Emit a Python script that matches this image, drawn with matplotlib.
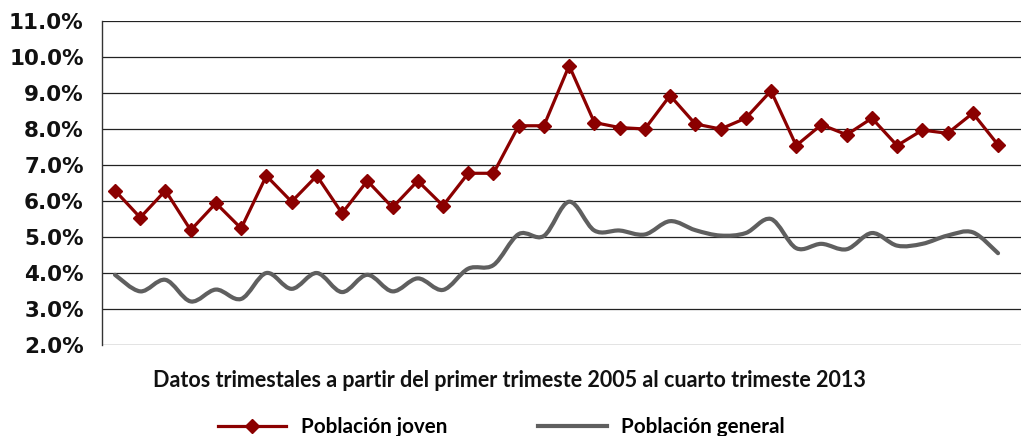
import matplotlib
matplotlib.use("Agg")
import matplotlib.pyplot as plt
from matplotlib.path import Path
from matplotlib.patches import PathPatch
from matplotlib.lines import Line2D
import numpy as np

# ---- data (quarterly, 2005 Q1 .. 2013 Q4) ----
quarters = [f"{y} T{q}" for y in range(2005, 2014) for q in range(1, 5)]
joven = [6.29, 5.54, 6.29, 5.19, 5.94, 5.24, 6.70, 5.98, 6.70, 5.66, 6.56, 5.82,
         6.56, 5.87, 6.77, 6.77, 8.09, 8.09, 9.76, 8.18, 8.04, 8.00, 8.93, 8.14,
         8.00, 8.30, 9.06, 7.54, 8.12, 7.84, 8.30, 7.54, 7.97, 7.88, 8.44, 7.56]
general = [3.95, 3.49, 3.81, 3.21, 3.54, 3.28, 4.00, 3.56, 4.00, 3.47, 3.95, 3.49,
           3.85, 3.53, 4.12, 4.22, 5.08, 5.03, 5.98, 5.18, 5.18, 5.07, 5.44, 5.19,
           5.04, 5.11, 5.50, 4.69, 4.81, 4.66, 5.11, 4.76, 4.81, 5.04, 5.13, 4.55]
yticks = [2, 3, 4, 5, 6, 7, 8, 9, 10, 11]
ytick_labels = [f"{v:.1f}%" for v in yticks]
xlabel = "Datos trimestales a partir del primer trimeste 2005 al cuarto trimeste 2013"
labels = ["Población joven", "Población general"]

RED = "#8b0000"
GRAY = "#5f5f5f"

W, H = 1021, 436
fig = plt.figure(figsize=(W / 100, H / 100), dpi=100)
ax = fig.add_axes([101.7 / W, 1 - 345 / H, 1 - 101.7 / W, (345 - 21) / H])

x = np.arange(len(quarters))

# smoothed gray line as cubic Bezier path through the data points
def smooth_path(xs, ys):
    pts = np.column_stack([xs, ys]).astype(float)
    n = len(pts)
    verts = [pts[0]]
    codes = [Path.MOVETO]
    for i in range(n - 1):
        p0 = pts[i - 1] if i > 0 else pts[i]
        p1 = pts[i]
        p2 = pts[i + 1]
        p3 = pts[i + 2] if i + 2 < n else pts[i + 1]
        c1 = p1 + (p2 - p0) / 6.0
        c2 = p2 - (p3 - p1) / 6.0
        verts += [c1, c2, p2]
        codes += [Path.CURVE4] * 3
    return Path(verts, codes)

ax.add_patch(PathPatch(smooth_path(x, general), facecolor="none", edgecolor=GRAY,
                       lw=3.0, capstyle="round", joinstyle="round", zorder=3))

ax.plot(x, joven, color=RED, lw=2.3, marker="D", markersize=7.5,
        markerfacecolor=RED, markeredgecolor=RED, zorder=4)

ax.set_xlim(-0.527, 35.91)
ax.set_ylim(2, 11)
ax.set_yticks(yticks)
ax.set_yticklabels(ytick_labels)
ax.set_xticks([])
ax.grid(axis="y", color="#222222", lw=0.9, zorder=1)
ax.set_axisbelow(True)
for s in ["top", "right", "bottom"]:
    ax.spines[s].set_visible(False)
ax.spines["left"].set_color("#333333")
ax.spines["left"].set_linewidth(1.0)
ax.tick_params(axis="y", length=0, pad=13)
for t in ax.get_yticklabels():
    t.set_fontfamily("DejaVu Sans")
    t.set_fontweight("bold")
    t.set_fontsize(15.5)
    t.set_color("#111111")

fig.text(509 / W, 1 - 386.7 / H, xlabel, ha="center", va="baseline",
         fontfamily="Lato", fontweight="bold", fontsize=15.5, color="#111111")

handles = [Line2D([], [], color=RED, lw=2.3, marker="D", markersize=7.5),
           Line2D([], [], color=GRAY, lw=3.0)]
fig.legend(handles, labels, loc="center", bbox_to_anchor=(501.5 / W, 1 - 427 / H),
           ncol=2, frameon=False, numpoints=1, handlelength=3.3, handletextpad=0.7,
           columnspacing=4.4, borderpad=0, borderaxespad=0,
           prop={"family": "Lato", "weight": "bold", "size": 14.9})

fig.savefig("out.png", dpi=100)
